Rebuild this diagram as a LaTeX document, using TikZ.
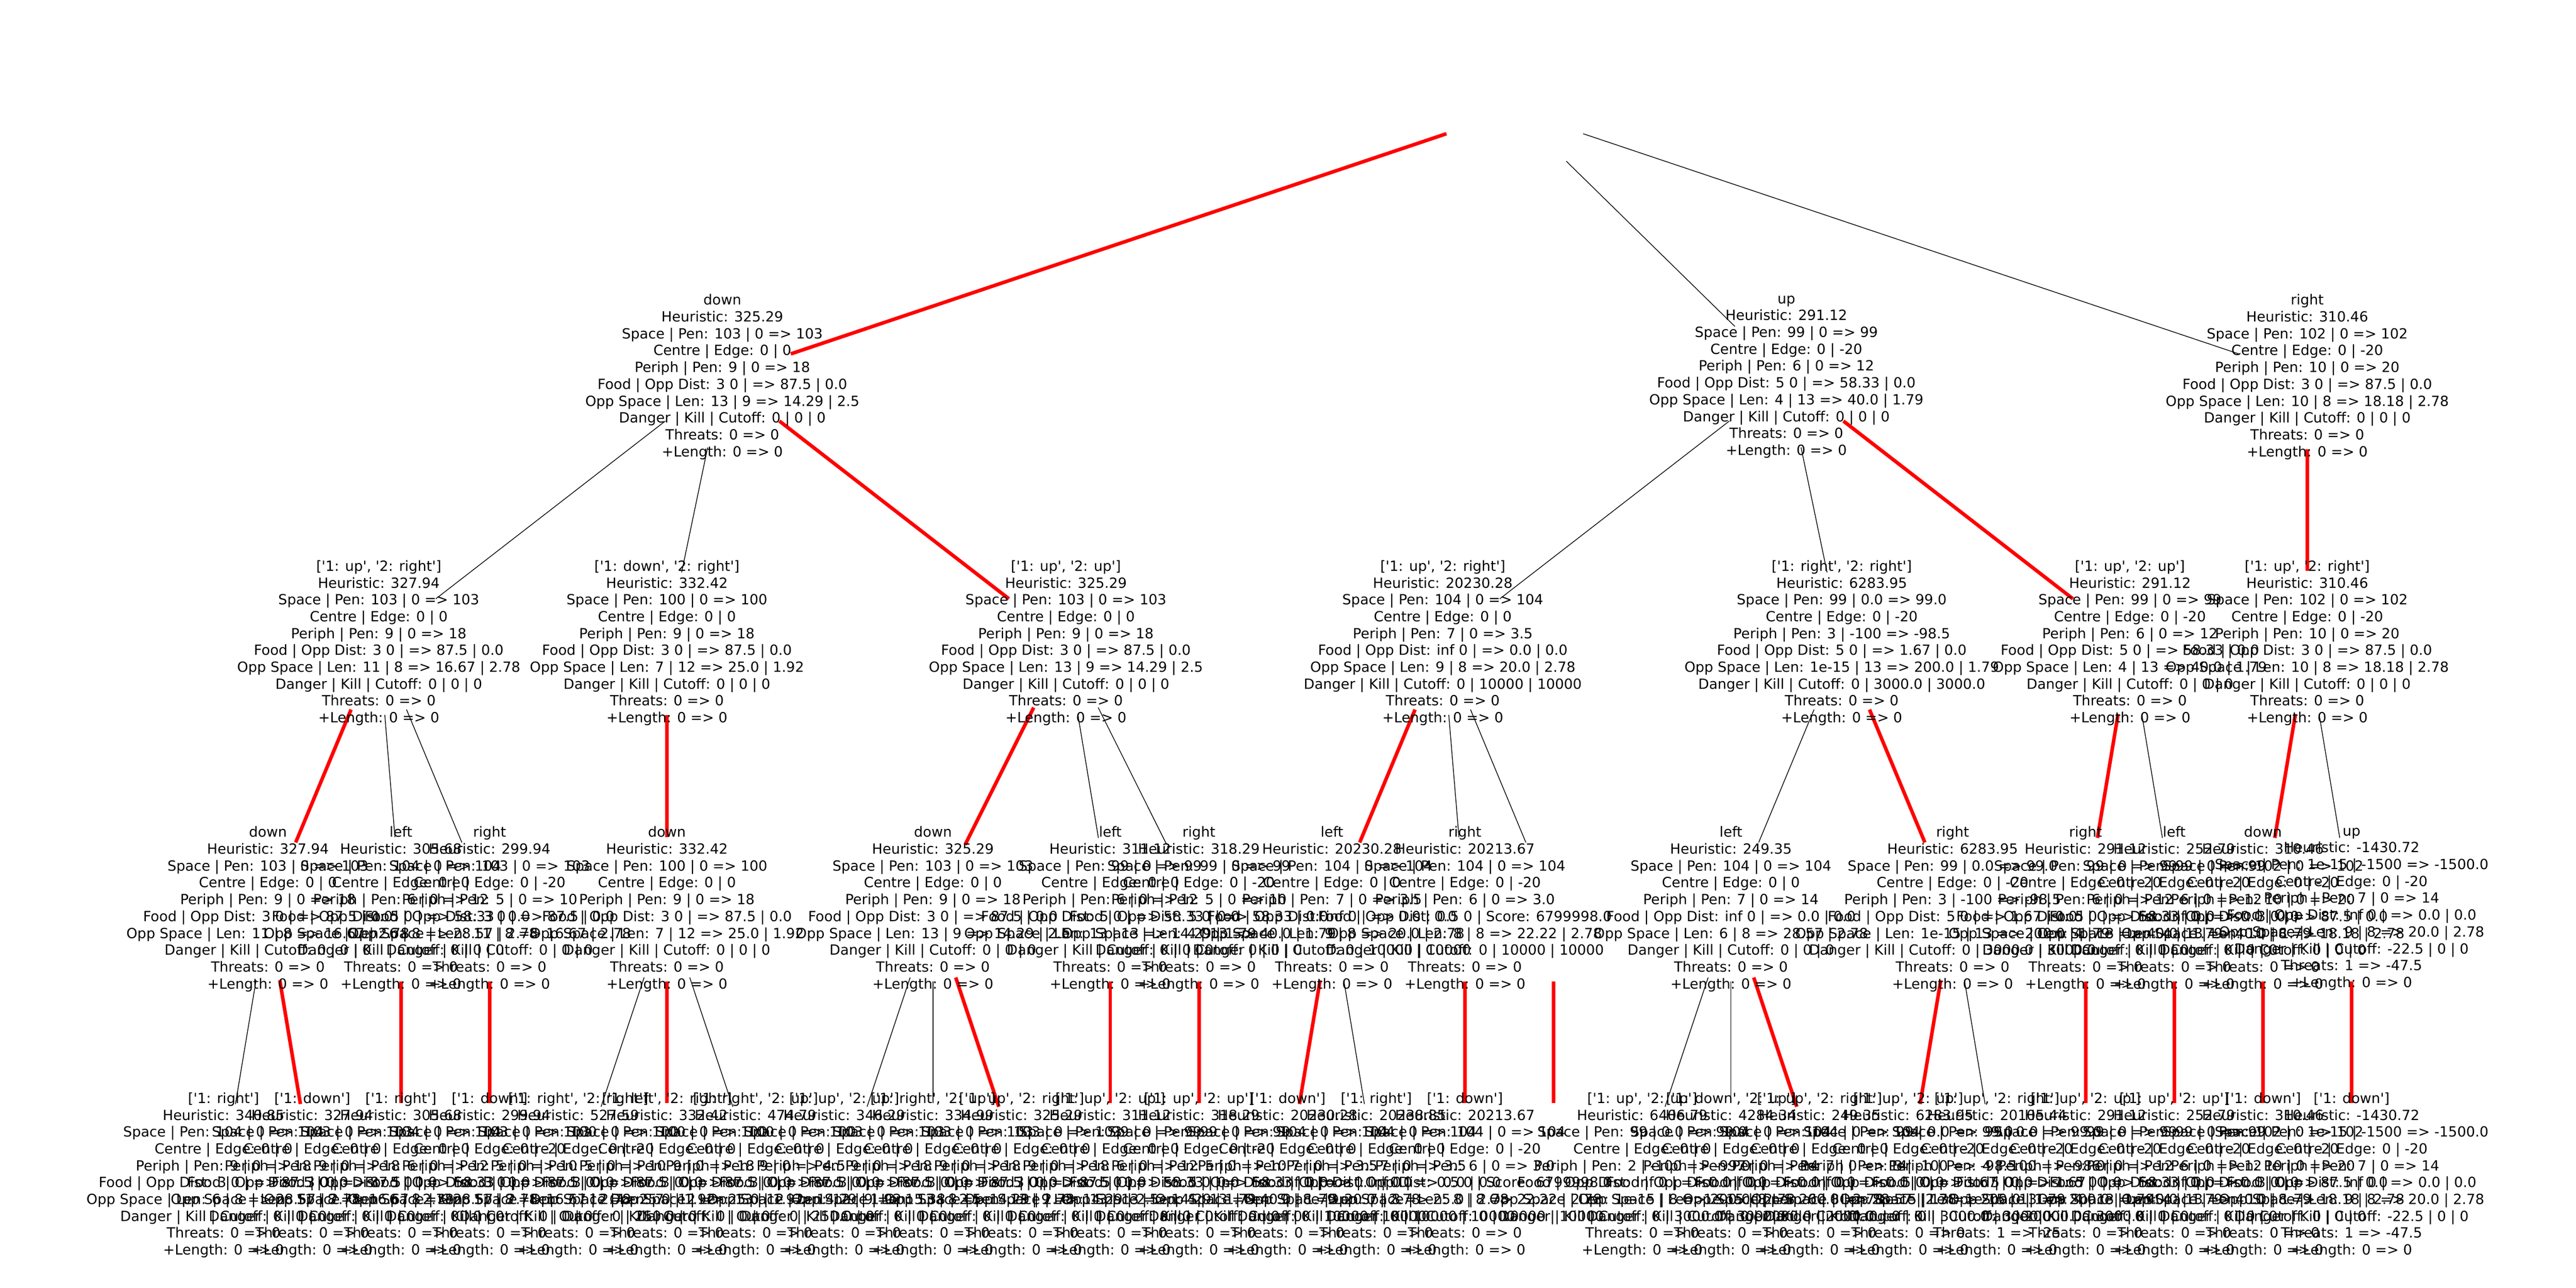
\documentclass[tikz,border=0pt]{standalone}
\usepackage{fontspec}
\newfontfamily\lblfont{DejaVu Sans}
\pgfdeclarelayer{bg}
\pgfsetlayers{bg,main}
\newcommand{\mvtxt}[9]{#1\\Heuristic: #2\\Space | Pen: #3\\Centre | Edge: #4\\Periph | Pen: #5\\Food | Opp Dist: #6\\Opp Space | Len: #7\\Danger | Kill | Cutoff: #8\\Threats: #9\\+Length: 0 => 0}
\tikzset{
  lbl/.style={font=\lblfont\fontsize{7.74pt}{9.3pt}\selectfont, align=center, inner sep=0pt, text=black},
  edg/.style={draw=black, line width=0.4pt, shorten <=1.4cm, shorten >=1.4cm},
  sel/.style={draw=red, line width=1.97pt, shorten <=1.4cm, shorten >=1.4cm}
}
\begin{document}
\begin{tikzpicture}
\useasboundingbox (0,0) rectangle (50,-25);
% root
\node[lbl] (rt) at (29.402,-2.15) {};
% level 1
\node[lbl] (d1) at (14.0208,-7.315) {\mvtxt{down}{325.29}{103 | 0 => 103}{0 | 0}{9 | 0 => 18}{3 0 | => 87.5 | 0.0}{13 | 9 => 14.29 | 2.5}{0 | 0 | 0}{0 => 0}};
\node[lbl] (u1) at (34.6728,-7.315) {\mvtxt{up}{291.12}{99 | 0 => 99}{0 | -20}{6 | 0 => 12}{5 0 | => 58.33 | 0.0}{4 | 13 => 40.0 | 1.79}{0 | 0 | 0}{0 => 0}};
\node[lbl] (r1) at (44.7835,-7.315) {\mvtxt{right}{310.46}{102 | 0 => 102}{0 | -20}{10 | 0 => 20}{3 0 | => 87.5 | 0.0}{10 | 8 => 18.18 | 2.78}{0 | 0 | 0}{0 => 0}};
% level 2
\node[lbl] (a1) at (7.352,-12.48) {\mvtxt{['1: up', '2: right']}{327.94}{103 | 0 => 103}{0 | 0}{9 | 0 => 18}{3 0 | => 87.5 | 0.0}{11 | 8 => 16.67 | 2.78}{0 | 0 | 0}{0 => 0}};
\node[lbl] (a2) at (12.945,-12.48) {\mvtxt{['1: down', '2: right']}{332.42}{100 | 0 => 100}{0 | 0}{9 | 0 => 18}{3 0 | => 87.5 | 0.0}{7 | 12 => 25.0 | 1.92}{0 | 0 | 0}{0 => 0}};
\node[lbl] (a3) at (20.6895,-12.48) {\mvtxt{['1: up', '2: up']}{325.29}{103 | 0 => 103}{0 | 0}{9 | 0 => 18}{3 0 | => 87.5 | 0.0}{13 | 9 => 14.29 | 2.5}{0 | 0 | 0}{0 => 0}};
\node[lbl] (b1) at (28.004,-12.48) {\mvtxt{['1: up', '2: right']}{20230.28}{104 | 0 => 104}{0 | 0}{7 | 0 => 3.5}{inf 0 | => 0.0 | 0.0}{9 | 8 => 20.0 | 2.78}{0 | 10000 | 10000}{0 => 0}};
\node[lbl] (b2) at (35.748,-12.48) {\mvtxt{['1: right', '2: right']}{6283.95}{99 | 0.0 => 99.0}{0 | -20}{3 | -100 => -98.5}{5 0 | => 1.67 | 0.0}{1e-15 | 13 => 200.0 | 1.79}{0 | 3000.0 | 3000.0}{0 => 0}};
\node[lbl] (b3) at (41.3415,-12.48) {\mvtxt{['1: up', '2: up']}{291.12}{99 | 0 => 99}{0 | -20}{6 | 0 => 12}{5 0 | => 58.33 | 0.0}{4 | 13 => 40.0 | 1.79}{0 | 0 | 0}{0 => 0}};
\node[lbl] (c1) at (44.7835,-12.48) {\mvtxt{['1: up', '2: right']}{310.46}{102 | 0 => 102}{0 | -20}{10 | 0 => 20}{3 0 | => 87.5 | 0.0}{10 | 8 => 18.18 | 2.78}{0 | 0 | 0}{0 => 0}};
% level 3
\node[lbl] (ta) at (5.2005,-17.645) {\mvtxt{down}{327.94}{103 | 0 => 103}{0 | 0}{9 | 0 => 18}{3 0 | => 87.5 | 0.0}{11 | 8 => 16.67 | 2.78}{0 | 0 | 0}{0 => 0}};
\node[lbl] (tb) at (7.782,-17.645) {\mvtxt{left}{305.68}{104 | 0 => 104}{0 | 0}{6 | 0 => 12}{5 0 | => 58.33 | 0.0}{6 | 8 => 28.57 | 2.78}{0 | 0 | 0}{0 => 0}};
\node[lbl] (tc) at (9.503,-17.645) {\mvtxt{right}{299.94}{103 | 0 => 103}{0 | -20}{5 | 0 => 10}{3 0 | => 87.5 | 0.0}{11 | 8 => 16.67 | 2.78}{0 | 0 | 0}{0 => 0}};
\node[lbl] (td) at (12.945,-17.645) {\mvtxt{down}{332.42}{100 | 0 => 100}{0 | 0}{9 | 0 => 18}{3 0 | => 87.5 | 0.0}{7 | 12 => 25.0 | 1.92}{0 | 0 | 0}{0 => 0}};
\node[lbl] (te) at (18.108,-17.645) {\mvtxt{down}{325.29}{103 | 0 => 103}{0 | 0}{9 | 0 => 18}{3 0 | => 87.5 | 0.0}{13 | 9 => 14.29 | 2.5}{0 | 0 | 0}{0 => 0}};
\node[lbl] (tf) at (21.550,-17.645) {\mvtxt{left}{311.12}{99 | 0 => 99}{0 | 0}{6 | 0 => 12}{5 0 | => 58.33 | 0.0}{13 | 13 => 14.29 | 1.79}{0 | 0 | 0}{0 => 0}};
\node[lbl] (tg) at (23.271,-17.645) {\mvtxt{right}{318.29}{99 | 0 => 99}{0 | -20}{5 | 0 => 10}{5 0 | => 58.33 | 0.0}{4 | 13 => 40.0 | 1.79}{0 | 0 | 0}{0 => 0}};
\node[lbl] (th) at (25.8525,-17.645) {\mvtxt{left}{20230.28}{104 | 0 => 104}{0 | 0}{7 | 0 => 3.5}{inf 0 | => 0.0 | 0.0}{9 | 8 => 20.0 | 2.78}{0 | 10000 | 10000}{0 => 0}};
\node[lbl] (ti) at (28.434,-17.645) {\mvtxt{right}{20213.67}{104 | 0 => 104}{0 | -20}{6 | 0 => 3.0}{0.5 0 | Score: 6799998.0}{8 | 8 => 22.22 | 2.78}{0 | 10000 | 10000}{0 => 0}};
\node[lbl] (tj) at (30.155,-17.645) {};
\node[lbl] (tk) at (33.597,-17.645) {\mvtxt{left}{249.35}{104 | 0 => 104}{0 | 0}{7 | 0 => 14}{inf 0 | => 0.0 | 0.0}{6 | 8 => 28.57 | 2.78}{0 | 0 | 0}{0 => 0}};
\node[lbl] (tl) at (37.8995,-17.645) {\mvtxt{right}{6283.95}{99 | 0.0 => 99.0}{0 | -20}{3 | -100 => -98.5}{5 0 | => 1.67 | 0.0}{1e-15 | 13 => 200.0 | 1.79}{0 | 3000.0 | 3000.0}{0 => 0}};
\node[lbl] (tm) at (40.481,-17.645) {\mvtxt{right}{291.12}{99 | 0 => 99}{0 | -20}{6 | 0 => 12}{5 0 | => 58.33 | 0.0}{4 | 13 => 40.0 | 1.79}{0 | 0 | 0}{0 => 0}};
\node[lbl] (tn) at (42.202,-17.645) {\mvtxt{left}{252.79}{99 | 0 => 99}{0 | -20}{6 | 0 => 12}{inf 0 | => 0.0 | 0.0}{4 | 13 => 40.0 | 1.79}{0 | 0 | 0}{0 => 0}};
\node[lbl] (to) at (43.923,-17.645) {\mvtxt{down}{310.46}{102 | 0 => 102}{0 | -20}{10 | 0 => 20}{3 0 | => 87.5 | 0.0}{10 | 8 => 18.18 | 2.78}{0 | 0 | 0}{0 => 0}};
\node[lbl] (tp) at (45.644,-17.645) {\mvtxt{up}{-1430.72}{1e-15 | -1500 => -1500.0}{0 | -20}{7 | 0 => 14}{inf 0 | => 0.0 | 0.0}{9 | 8 => 20.0 | 2.78}{-22.5 | 0 | 0}{1 => -47.5}};
% level 4
\node[lbl] (f0) at (4.340,-22.81) {\mvtxt{['1: right']}{340.85}{104 | 0 => 104}{0 | 0}{9 | 0 => 18}{3 0 | => 87.5 | 0.0}{6 | 8 => 28.57 | 2.78}{0 | 0 | 0}{0 => 0}};
\node[lbl] (f1) at (6.061,-22.81) {\mvtxt{['1: down']}{327.94}{103 | 0 => 103}{0 | 0}{9 | 0 => 18}{3 0 | => 87.5 | 0.0}{11 | 8 => 16.67 | 2.78}{0 | 0 | 0}{0 => 0}};
\node[lbl] (f2) at (7.782,-22.81) {\mvtxt{['1: right']}{305.68}{104 | 0 => 104}{0 | 0}{6 | 0 => 12}{5 0 | => 58.33 | 0.0}{6 | 8 => 28.57 | 2.78}{0 | 0 | 0}{0 => 0}};
\node[lbl] (f3) at (9.503,-22.81) {\mvtxt{['1: down']}{299.94}{103 | 0 => 103}{0 | -20}{5 | 0 => 10}{3 0 | => 87.5 | 0.0}{11 | 8 => 16.67 | 2.78}{0 | 0 | 0}{0 => 0}};
\node[lbl] (f4) at (11.224,-22.81) {\mvtxt{['1: right', '2: right']}{527.59}{100 | 0 => 100}{0 | -20}{5 | 0 => 10}{3 0 | => 87.5 | 0.0}{7 | 12 => 25.0 | 1.92}{0 | 250.0 | 0}{0 => 0}};
\node[lbl] (f5) at (12.945,-22.81) {\mvtxt{['1: left', '2: right']}{332.42}{100 | 0 => 100}{0 | 0}{9 | 0 => 18}{3 0 | => 87.5 | 0.0}{7 | 12 => 25.0 | 1.92}{0 | 0 | 0}{0 => 0}};
\node[lbl] (f6) at (14.666,-22.81) {\mvtxt{['1: right', '2: up']}{474.79}{100 | 0 => 100}{0 | 0}{9 | 0 => 4.5}{3 0 | => 87.5 | 0.0}{13 | 12 => 14.29 | 1.92}{0 | 250.0 | 0}{0 => 0}};
\node[lbl] (f7) at (16.387,-22.81) {\mvtxt{['1: up', '2: up']}{346.29}{103 | 0 => 103}{0 | 0}{9 | 0 => 18}{3 0 | => 87.5 | 0.0}{12 | 9 => 15.38 | 2.5}{0 | 0 | 0}{0 => 0}};
\node[lbl] (f8) at (18.108,-22.81) {\mvtxt{['1: right', '2: up']}{334.99}{103 | 0 => 103}{0 | 0}{9 | 0 => 18}{3 0 | => 87.5 | 0.0}{13 | 8 => 14.29 | 2.78}{0 | 0 | 0}{0 => 0}};
\node[lbl] (f9) at (19.829,-22.81) {\mvtxt{['1: up', '2: right']}{325.29}{103 | 0 => 103}{0 | 0}{9 | 0 => 18}{3 0 | => 87.5 | 0.0}{13 | 9 => 14.29 | 2.5}{0 | 0 | 0}{0 => 0}};
\node[lbl] (f10) at (21.550,-22.81) {\mvtxt{['1: up', '2: up']}{311.12}{99 | 0 => 99}{0 | 0}{6 | 0 => 12}{5 0 | => 58.33 | 0.0}{13 | 13 => 14.29 | 1.79}{0 | 0 | 0}{0 => 0}};
\node[lbl] (f11) at (23.271,-22.81) {\mvtxt{['1: up', '2: up']}{318.29}{99 | 0 => 99}{0 | -20}{5 | 0 => 10}{5 0 | => 58.33 | 0.0}{4 | 13 => 40.0 | 1.79}{0 | 0 | 0}{0 => 0}};
\node[lbl] (f12) at (24.992,-22.81) {\mvtxt{['1: down']}{20230.28}{104 | 0 => 104}{0 | 0}{7 | 0 => 3.5}{inf 0 | => 0.0 | 0.0}{9 | 8 => 20.0 | 2.78}{0 | 10000 | 10000}{0 => 0}};
\node[lbl] (f13) at (26.713,-22.81) {\mvtxt{['1: right']}{20238.85}{104 | 0 => 104}{0 | 0}{7 | 0 => 3.5}{inf 0 | => 0.0 | 0.0}{7 | 8 => 25.0 | 2.78}{0 | 10000 | 10000}{0 => 0}};
\node[lbl] (f14) at (28.434,-22.81) {\mvtxt{['1: down']}{20213.67}{104 | 0 => 104}{0 | -20}{6 | 0 => 3.0}{0.5 0 | Score: 6799998.0}{8 | 8 => 22.22 | 2.78}{0 | 10000 | 10000}{0 => 0}};
\node[lbl] (f15) at (30.155,-22.81) {};
\node[lbl] (f16) at (31.876,-22.81) {\mvtxt{['1: up', '2: up']}{6406.79}{99 | 0.0 => 99.0}{0 | 0}{2 | -100 => -99.0}{inf 0 | => 0.0 | 0.0}{1e-15 | 8 => 200.0 | 2.78}{0 | 3000.0 | 3000.0}{0 => 0}};
\node[lbl] (f17) at (33.597,-22.81) {\mvtxt{['1: down', '2: up']}{4284.34}{104 | 0 => 104}{0 | 0}{7 | 0 => 14}{inf 0 | => 0.0 | 0.0}{1e-15 | 8 => 200.0 | 2.78}{0 | 2000.0 | 2000.0}{0 => 0}};
\node[lbl] (f18) at (35.318,-22.81) {\mvtxt{['1: up', '2: right']}{249.35}{104 | 0 => 104}{0 | 0}{7 | 0 => 14}{inf 0 | => 0.0 | 0.0}{6 | 8 => 28.57 | 2.78}{0 | 0 | 0}{0 => 0}};
\node[lbl] (f19) at (37.039,-22.81) {\mvtxt{['1: up', '2: up']}{6283.95}{99 | 0.0 => 99.0}{0 | -20}{3 | -100 => -98.5}{5 0 | => 1.67 | 0.0}{1e-15 | 13 => 200.0 | 1.79}{0 | 3000.0 | 3000.0}{0 => 0}};
\node[lbl] (f20) at (38.760,-22.81) {\mvtxt{['1: up', '2: right']}{20105.44}{99 | 0.0 => 99.0}{0 | -20}{4 | -100 => -98.0}{5 0 | => 1.67 | 0.0}{1e-15 | 13 => 200.0 | 1.79}{0 | 20000.0 | 3000.0}{1 => -25}};
\node[lbl] (f21) at (40.481,-22.81) {\mvtxt{['1: up', '2: up']}{291.12}{99 | 0 => 99}{0 | -20}{6 | 0 => 12}{5 0 | => 58.33 | 0.0}{4 | 13 => 40.0 | 1.79}{0 | 0 | 0}{0 => 0}};
\node[lbl] (f22) at (42.202,-22.81) {\mvtxt{['1: up', '2: up']}{252.79}{99 | 0 => 99}{0 | -20}{6 | 0 => 12}{inf 0 | => 0.0 | 0.0}{4 | 13 => 40.0 | 1.79}{0 | 0 | 0}{0 => 0}};
\node[lbl] (f23) at (43.923,-22.81) {\mvtxt{['1: down']}{310.46}{102 | 0 => 102}{0 | -20}{10 | 0 => 20}{3 0 | => 87.5 | 0.0}{10 | 8 => 18.18 | 2.78}{0 | 0 | 0}{0 => 0}};
\node[lbl] (f24) at (45.644,-22.81) {\mvtxt{['1: down']}{-1430.72}{1e-15 | -1500 => -1500.0}{0 | -20}{7 | 0 => 14}{inf 0 | => 0.0 | 0.0}{9 | 8 => 20.0 | 2.78}{-22.5 | 0 | 0}{1 => -47.5}};
% edges
\begin{pgfonlayer}{bg}
\fill[white] (0,0) rectangle (50,-25);
\draw[sel] (rt.center) -- (d1.center);
\draw[edg] (rt.center) -- (u1.center);
\draw[edg] (rt.center) -- (r1.center);
\draw[edg] (d1.center) -- (a1.center);
\draw[edg] (d1.center) -- (a2.center);
\draw[sel] (d1.center) -- (a3.center);
\draw[edg] (u1.center) -- (b1.center);
\draw[edg] (u1.center) -- (b2.center);
\draw[sel] (u1.center) -- (b3.center);
\draw[sel] (r1.center) -- (c1.center);
\draw[sel] (a1.center) -- (ta.center);
\draw[edg] (a1.center) -- (tb.center);
\draw[edg] (a1.center) -- (tc.center);
\draw[sel] (a2.center) -- (td.center);
\draw[sel] (a3.center) -- (te.center);
\draw[edg] (a3.center) -- (tf.center);
\draw[edg] (a3.center) -- (tg.center);
\draw[sel] (b1.center) -- (th.center);
\draw[edg] (b1.center) -- (ti.center);
\draw[edg] (b1.center) -- (tj.center);
\draw[edg] (b2.center) -- (tk.center);
\draw[sel] (b2.center) -- (tl.center);
\draw[sel] (b3.center) -- (tm.center);
\draw[edg] (b3.center) -- (tn.center);
\draw[sel] (c1.center) -- (to.center);
\draw[edg] (c1.center) -- (tp.center);
\draw[edg] (ta.center) -- (f0.center);
\draw[sel] (ta.center) -- (f1.center);
\draw[sel] (tb.center) -- (f2.center);
\draw[sel] (tc.center) -- (f3.center);
\draw[edg] (td.center) -- (f4.center);
\draw[sel] (td.center) -- (f5.center);
\draw[edg] (td.center) -- (f6.center);
\draw[edg] (te.center) -- (f7.center);
\draw[edg] (te.center) -- (f8.center);
\draw[sel] (te.center) -- (f9.center);
\draw[sel] (tf.center) -- (f10.center);
\draw[sel] (tg.center) -- (f11.center);
\draw[sel] (th.center) -- (f12.center);
\draw[edg] (th.center) -- (f13.center);
\draw[sel] (ti.center) -- (f14.center);
\draw[sel] (tj.center) -- (f15.center);
\draw[edg] (tk.center) -- (f16.center);
\draw[edg] (tk.center) -- (f17.center);
\draw[sel] (tk.center) -- (f18.center);
\draw[sel] (tl.center) -- (f19.center);
\draw[edg] (tl.center) -- (f20.center);
\draw[sel] (tm.center) -- (f21.center);
\draw[sel] (tn.center) -- (f22.center);
\draw[sel] (to.center) -- (f23.center);
\draw[sel] (tp.center) -- (f24.center);
\end{pgfonlayer}
\end{tikzpicture}
\end{document}
